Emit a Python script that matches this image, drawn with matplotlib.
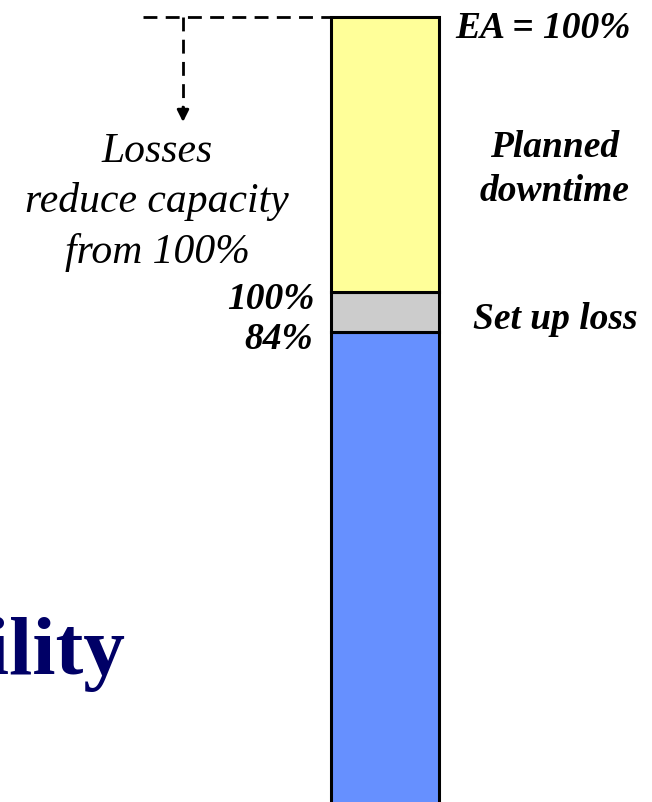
import matplotlib.pyplot as plt

# stacked capacity column, bottom to top (arbitrary height units)
segments = ["Remaining", "Set up loss", "Planned downtime"]
heights = [192, 16, 110]
colors = ["#6690FF", "#CCCCCC", "#FFFF99"]
base = -4

edge_labels = ["100%", "84%"]

plt.rcParams['font.family'] = ['Liberation Serif', 'DejaVu Serif']

fig = plt.figure(figsize=(6.52, 8.02), dpi=100)
ax = fig.add_axes([0, 0, 1, 1])
ax.set_xlim(0, 652)
ax.set_ylim(0, 320.8)
ax.axis('off')

bar_x, bar_w = 385, 108
bottom = base
tops = []
for name, h, c in zip(segments, heights, colors):
    ax.bar(bar_x, h, bottom=bottom, width=bar_w, color=c,
           edgecolor='black', linewidth=2.2, zorder=2)
    bottom += h
    tops.append(bottom)
top = tops[-1]
setup_top = tops[1]
setup_bottom = tops[0]

# dashed lead line and arrow
left = bar_x - bar_w / 2
ax.plot([143, left], [top, top], color='black', lw=2, ls=(0, (5, 3)), zorder=1)
ax.plot([183, 183], [top, top - 38], color='black', lw=2, ls=(0, (5, 3)))
ax.annotate('', xy=(183, top - 42), xytext=(183, top - 36),
            arrowprops=dict(arrowstyle='-|>,head_length=0.7,head_width=0.35',
                            color='black', lw=2, shrinkA=0, shrinkB=0))

bi = dict(fontweight='bold', fontstyle='italic', fontsize=27, color='black')
ax.text(455, top - 4.5, "EA = 100%", ha='left', va='center', **bi)
ax.text(555, 253, "Planned\ndowntime", ha='center',
        va='center', linespacing=1.36, **bi)
ax.text(555, (setup_top + setup_bottom) / 2 - 3, "Set up loss", ha='center',
        va='center', **bi)
ax.text(315, setup_top - 3, edge_labels[0], ha='right', va='center', **bi)
ax.text(313, setup_bottom - 2.8, edge_labels[1], ha='right', va='center', **bi)

ax.text(157, 240, "Losses\nreduce capacity\nfrom 100%", ha='center',
        va='center', fontstyle='italic', fontsize=30, linespacing=1.38)

ax.text(125, 51, "Availability", ha='right', va='baseline',
        fontweight='bold', fontsize=60, color='#000066')

fig.savefig('out.png', dpi=100)
